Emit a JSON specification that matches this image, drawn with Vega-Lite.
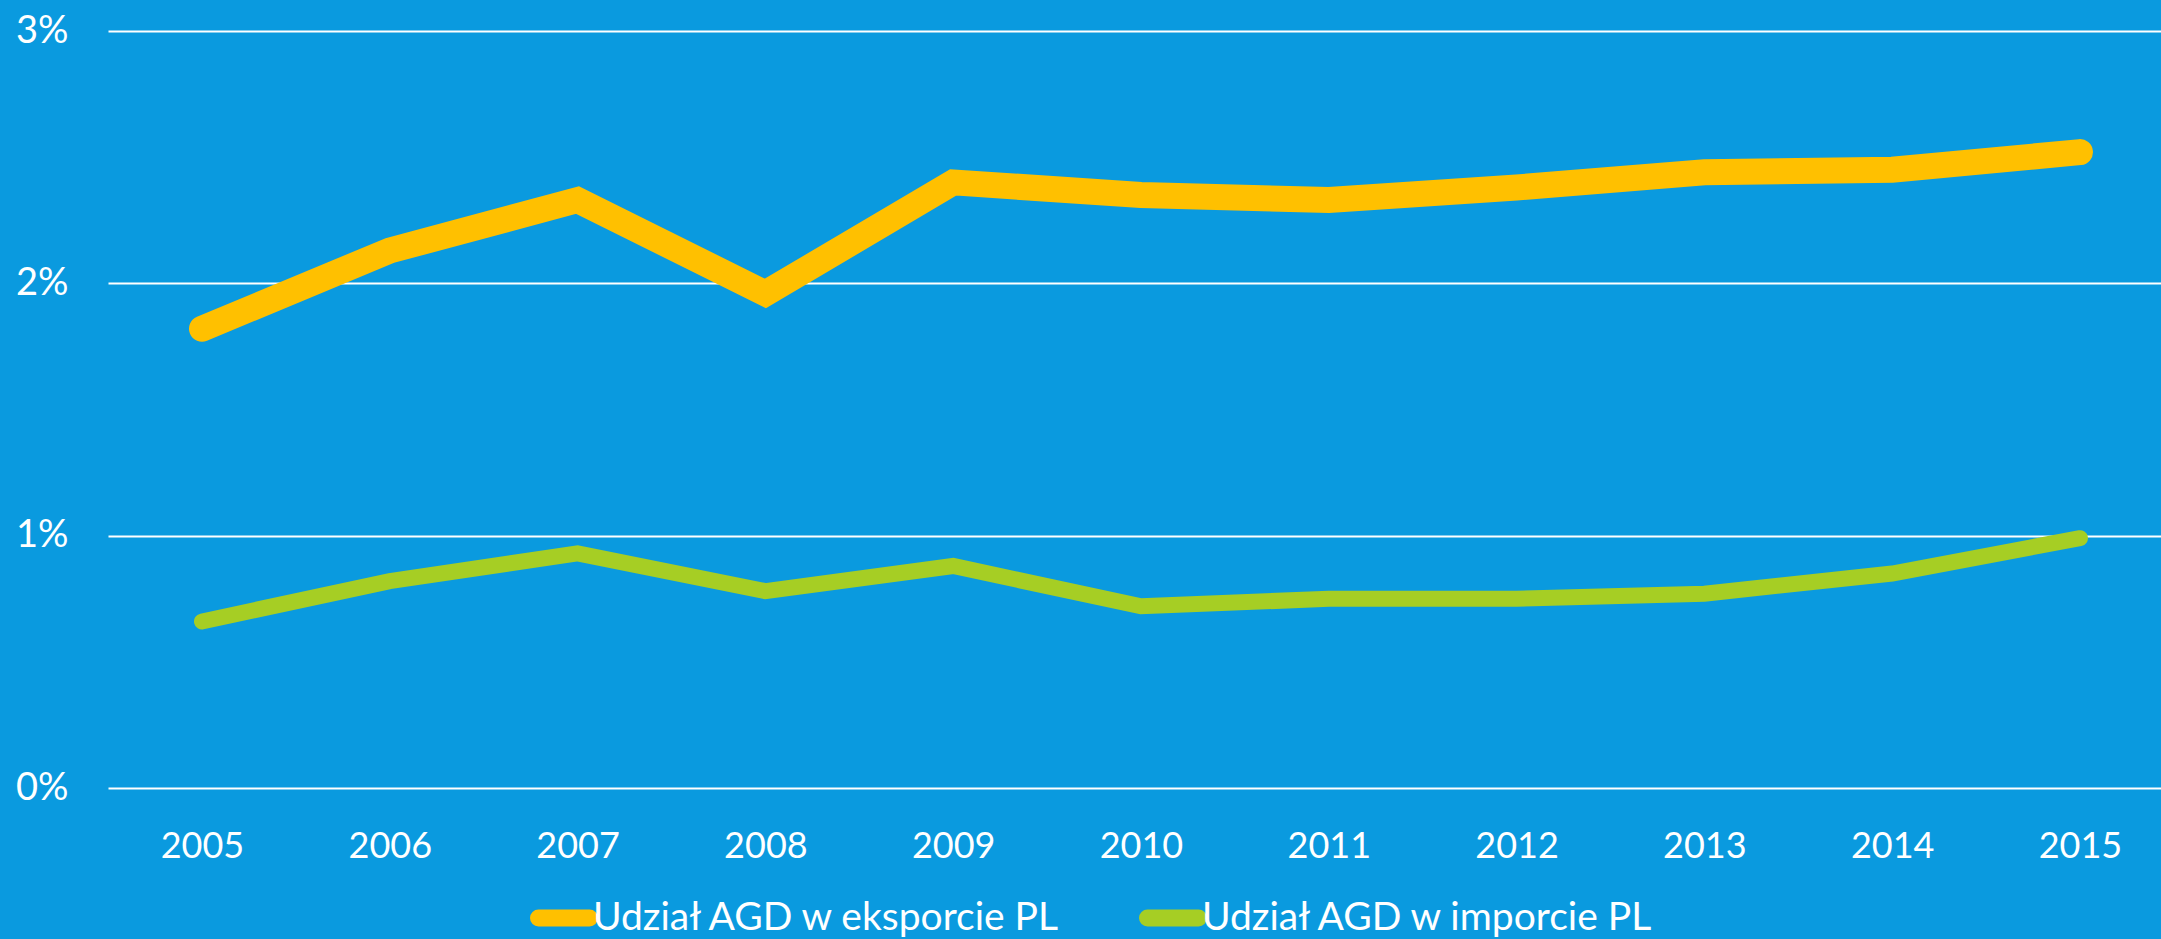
{
  "$schema": "https://vega.github.io/schema/vega-lite/v6.json",
  "width": 2053,
  "height": 757,
  "autosize": {"type": "none"},
  "padding": {"left": 108, "top": 31, "right": 0, "bottom": 151},
  "background": "#0A9ADF",
  "config": {"view": {"stroke": null}, "font": "Lato"},
  "data": {
    "values": [
      {"year": "2005", "series": "Udział AGD w eksporcie PL", "value": 0.0182},
      {"year": "2006", "series": "Udział AGD w eksporcie PL", "value": 0.0213},
      {"year": "2007", "series": "Udział AGD w eksporcie PL", "value": 0.0233},
      {"year": "2008", "series": "Udział AGD w eksporcie PL", "value": 0.0196},
      {"year": "2009", "series": "Udział AGD w eksporcie PL", "value": 0.0240},
      {"year": "2010", "series": "Udział AGD w eksporcie PL", "value": 0.0235},
      {"year": "2011", "series": "Udział AGD w eksporcie PL", "value": 0.0233},
      {"year": "2012", "series": "Udział AGD w eksporcie PL", "value": 0.0238},
      {"year": "2013", "series": "Udział AGD w eksporcie PL", "value": 0.0244},
      {"year": "2014", "series": "Udział AGD w eksporcie PL", "value": 0.0245},
      {"year": "2015", "series": "Udział AGD w eksporcie PL", "value": 0.0252},
      {"year": "2005", "series": "Udział AGD w imporcie PL", "value": 0.0066},
      {"year": "2006", "series": "Udział AGD w imporcie PL", "value": 0.0082},
      {"year": "2007", "series": "Udział AGD w imporcie PL", "value": 0.0093},
      {"year": "2008", "series": "Udział AGD w imporcie PL", "value": 0.0078},
      {"year": "2009", "series": "Udział AGD w imporcie PL", "value": 0.0088},
      {"year": "2010", "series": "Udział AGD w imporcie PL", "value": 0.0072},
      {"year": "2011", "series": "Udział AGD w imporcie PL", "value": 0.0075},
      {"year": "2012", "series": "Udział AGD w imporcie PL", "value": 0.0075},
      {"year": "2013", "series": "Udział AGD w imporcie PL", "value": 0.0077},
      {"year": "2014", "series": "Udział AGD w imporcie PL", "value": 0.0085},
      {"year": "2015", "series": "Udział AGD w imporcie PL", "value": 0.0099}
    ]
  },
  "encoding": {
    "x": {
      "field": "year",
      "type": "ordinal",
      "scale": {"type": "point", "padding": 0.466, "align": 0.537},
      "axis": {
        "title": null,
        "labelAngle": 0,
        "domain": false,
        "ticks": false,
        "grid": false,
        "labelColor": "white",
        "labelFont": "Lato",
        "labelFontSize": 36,
        "labelPadding": 41
      }
    },
    "y": {
      "field": "value",
      "type": "quantitative",
      "scale": {"domain": [0, 0.03]},
      "axis": {
        "title": null,
        "values": [0, 0.01, 0.02, 0.03],
        "format": ".0%",
        "domain": false,
        "ticks": false,
        "grid": true,
        "gridColor": "white",
        "gridWidth": 1.8,
        "gridOpacity": 1,
        "labelColor": "white",
        "labelFont": "Lato",
        "labelFontSize": 38,
        "labelPadding": 40
      }
    },
    "color": {
      "field": "series",
      "type": "nominal",
      "scale": {
        "domain": ["Udział AGD w eksporcie PL", "Udział AGD w imporcie PL"],
        "range": ["#FFC000", "#A6CE24"]
      },
      "legend": {
        "title": null,
        "orient": "none",
        "direction": "horizontal",
        "legendX": 422,
        "legendY": 853,
        "padding": 0,
        "labelColor": "white",
        "labelFont": "Lato",
        "labelFontSize": 39,
        "labelLimit": 1000,
        "symbolType": "stroke",
        "symbolStrokeWidth": 17,
        "symbolSize": 2601,
        "labelOffset": -5,
        "columnPadding": 50,
        "encode": {
          "symbols": {
            "update": {
              "strokeCap": {"value": "round"}
            }
          }
        }
      }
    }
  },
  "layer": [
    {
      "transform": [{"filter": "datum.series === 'Udział AGD w imporcie PL'"}],
      "mark": {"type": "line", "strokeCap": "round", "strokeJoin": "miter", "strokeWidth": 16}
    },
    {
      "transform": [{"filter": "datum.series === 'Udział AGD w eksporcie PL'"}],
      "mark": {"type": "line", "strokeCap": "round", "strokeJoin": "miter", "strokeWidth": 26}
    }
  ]
}
